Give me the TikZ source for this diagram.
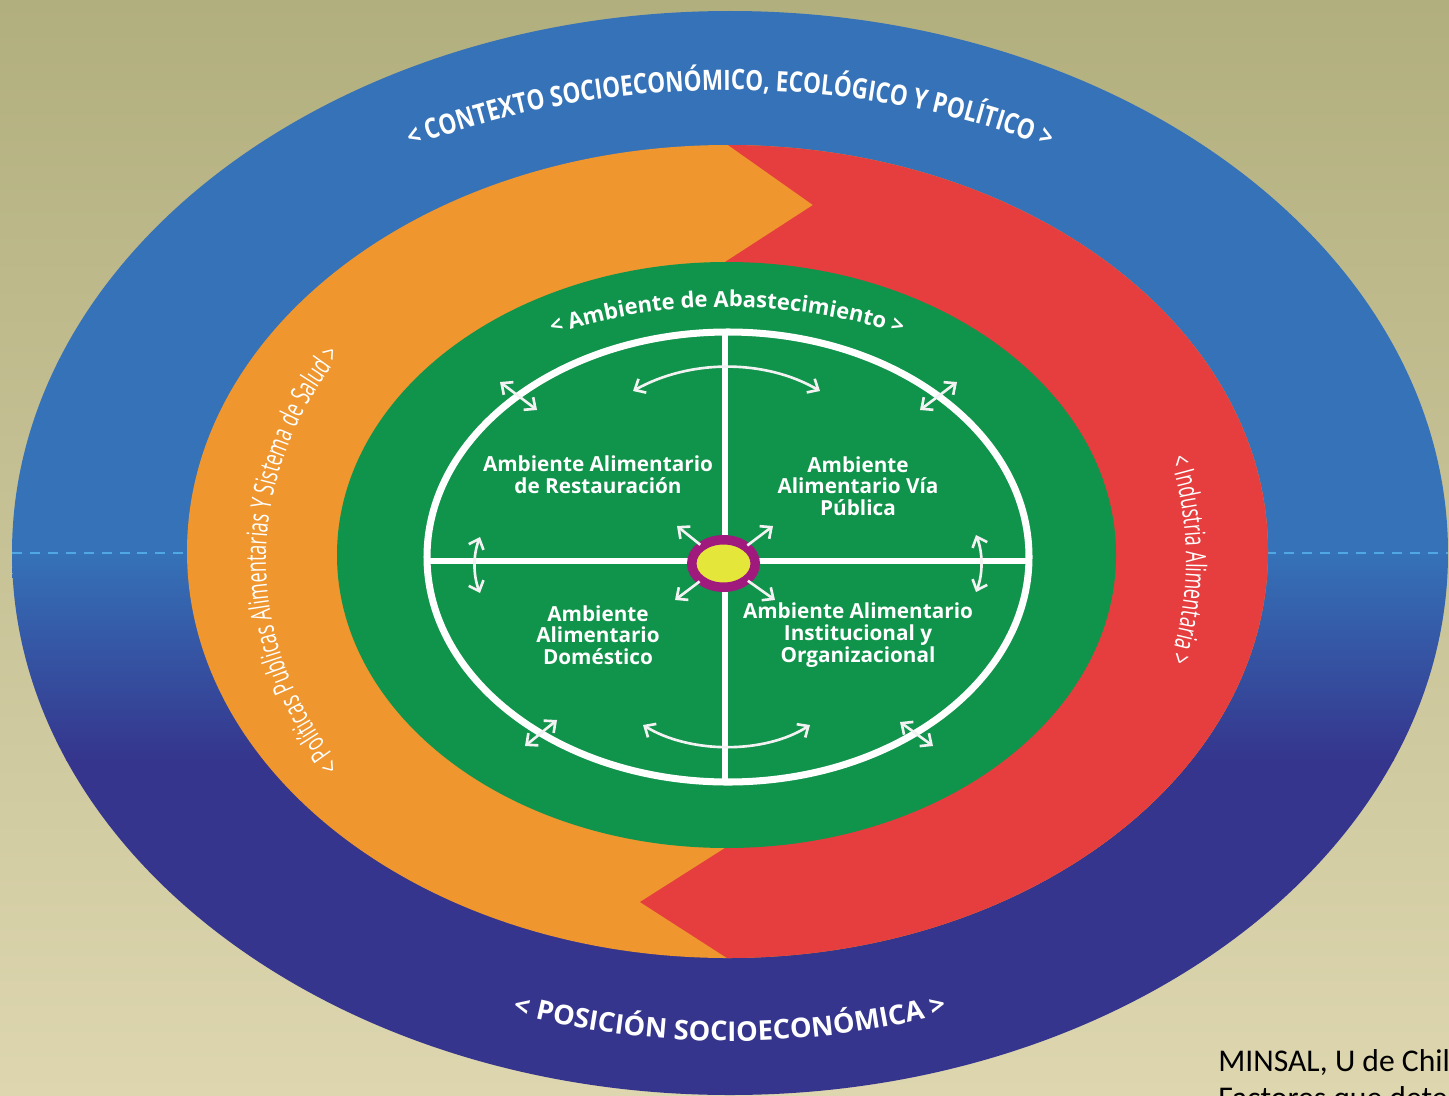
\documentclass[tikz,border=0pt]{standalone}
\usepackage{fontspec}
\setmainfont{Open Sans}
\newfontfamily\capfont[FakeStretch=0.8]{Open Sans}
\newfontfamily\bandfont[FakeStretch=0.64]{Open Sans}
\newfontfamily\notefont{Carlito}
\usepackage{tikz}
\usetikzlibrary{arrows.meta,decorations.text,shapes.geometric}

\definecolor{bgtop}{HTML}{B2AF7E}
\definecolor{bgbot}{HTML}{DDD6AF}
\definecolor{blueup}{HTML}{3572B8}
\definecolor{bluelow}{HTML}{35358D}
\definecolor{dashblue}{HTML}{4FA8E3}
\definecolor{ringorange}{HTML}{EF962E}
\definecolor{ringred}{HTML}{E63E3E}
\definecolor{ringgreen}{HTML}{10934A}
\definecolor{hubpurple}{HTML}{A01A7D}
\definecolor{hubyellow}{HTML}{E4E639}
\definecolor{arrowwhite}{HTML}{F2F2F2}

\begin{document}
\begin{tikzpicture}[x=0.02cm, y=-0.02cm,
    quadtext/.style={text=white, font=\fontsize{11.8}{12.3}\selectfont\bfseries, align=center, inner sep=0pt},
    twoway/.style={draw=arrowwhite, line width=1.5pt,
        {Straight Barb[length=5pt,width=9pt]}-{Straight Barb[length=5pt,width=9pt]}},
    oneway/.style={draw=arrowwhite, line width=1.5pt, -{Straight Barb[length=5pt,width=9pt]}},
    bandtext/.style={decorate, decoration={text along path, text align=center,
        text color=white, text={#1}}}
]
\useasboundingbox (0,0) rectangle (1449,1095);
\clip (0,0) rectangle (1449,1095);
\shade[top color=bgtop, bottom color=bgbot] (0,0) rectangle (1449,1095);

% outer band
\begin{scope}
  \clip (730,553) ellipse[x radius=718, y radius=542];
  \fill[blueup] (0,0) rectangle (1449,553);
  \shade[top color=blueup, bottom color=bluelow] (0,553) rectangle (1449,760);
  \fill[bluelow] (0,759) rectangle (1449,1100);
  \draw[dashblue, line width=1.2pt, dash pattern=on 5.7pt off 4.5pt] (12,553) -- (1449,553);
\end{scope}

% orange / red band
\fill[ringorange] (727.5,551.5) ellipse[x radius=540.5, y radius=406.5];
\begin{scope}
  \clip (727.5,551.5) ellipse[x radius=540.5, y radius=406.5];
  \fill[ringred] (728,100) -- (728,145) -- (813,205) -- (725,262) -- (725,848)
    -- (640,902) -- (727,958) -- (727,1000) -- (1300,1000) -- (1300,100) -- cycle;
\end{scope}

% green disc
\fill[ringgreen] (726.5,555) ellipse[x radius=389.5, y radius=293];
\draw[white, line width=4pt] (728,557) ellipse[x radius=301, y radius=225];

\coordinate (top) at (725,332);
\coordinate (bot) at (725,782);
\coordinate (lft) at (427,561);
\coordinate (rgt) at (1029,561);
\draw[white, line width=3.4pt] (top) -- (bot);
\draw[white, line width=3.4pt] (lft) -- (rgt);

\node (hub) [ellipse, draw=hubpurple, line width=5.4pt, fill=hubyellow,
    minimum width=1.27cm, minimum height=0.95cm, inner sep=0pt] at (723.5,563.5) {};

% band texts
\path[bandtext={|\capfont\fontsize{16}{18}\selectfont\bfseries|< CONTEXTO SOCIOECONÓMICO, ECOLÓGICO Y POLÍTICO >}]
  ([shift={(-128:660 and 463)}]730,553) arc[start angle=-128, end angle=-52, x radius=660, y radius=463];
\path[bandtext={|\fontsize{15.5}{18}\selectfont\bfseries|< POSICIÓN SOCIOECONÓMICA >}]
  ([shift={(130:650 and 488)}]730,553) arc[start angle=130, end angle=50, x radius=650, y radius=488];
\path[bandtext={|\bandfont\fontsize{16}{18}\selectfont|< Políticas Publicas Alimentarias Y Sistema de Salud >}]
  ([shift={(130:461 and 375)}]727,560) arc[start angle=130, end angle=230, x radius=461, y radius=375];
\path[bandtext={|\bandfont\fontsize{16}{18}\selectfont|< Industria Alimentaria >}]
  ([shift={(-45:459 and 385)}]727,560) arc[start angle=-45, end angle=45, x radius=459, y radius=385];
\path[bandtext={|\fontsize{12.5}{14}\selectfont\bfseries|< Ambiente de Abastecimiento >}]
  ([shift={(-130:380 and 250)}]727,557) arc[start angle=-130, end angle=-50, x radius=380, y radius=250];

% quadrants
\node (rest) [quadtext] at (598,475) {Ambiente Alimentario\\de Restauración};
\node (via) [quadtext] at (858,486) {Ambiente\\Alimentario Vía\\Pública};
\node (dom) [quadtext] at (598,635) {Ambiente\\Alimentario\\Doméstico};
\node (inst) [quadtext] at (858,635) {Ambiente Alimentario\\Institucional y\\Organizacional};

% arrows
\coordinate (a1) at (633,391);  \coordinate (a2) at (820,391);
\coordinate (b1) at (643,725);  \coordinate (b2) at (810,725);
\coordinate (c1) at (480,537);  \coordinate (c2) at (480,593);
\coordinate (d1) at (976,535);  \coordinate (d2) at (976,592);
\draw[twoway] (a1) .. controls (690,359) and (765,359) .. (a2);
\draw[twoway] (b1) .. controls (690,754) and (765,754) .. (b2);
\draw[twoway] (c1) .. controls (473,555) and (473,575) .. (c2);
\draw[twoway] (d1) .. controls (983,553) and (983,574) .. (d2);

\coordinate (e1) at (500,382);  \coordinate (e2) at (537,410);
\coordinate (f1) at (957,382);  \coordinate (f2) at (920,410);
\coordinate (g1) at (525,746);  \coordinate (g2) at (557,720);
\coordinate (h1) at (933,746);  \coordinate (h2) at (900,722);
\draw[twoway] (e1) -- (e2);
\draw[twoway] (f1) -- (f2);
\draw[twoway] (g1) -- (g2);
\draw[twoway] (h1) -- (h2);

\coordinate (ul) at (677,526);  \coordinate (ur) at (773,526);
\coordinate (ll) at (675,600);  \coordinate (lr) at (775,600);
\draw[oneway, shorten <=17pt] (hub.center) -- (ul);
\draw[oneway, shorten <=17pt] (hub.center) -- (ur);
\draw[oneway, shorten <=17pt] (hub.center) -- (ll);
\draw[oneway, shorten <=17pt] (hub.center) -- (lr);

% source
\node (note1) [anchor=base west, inner sep=0pt, font=\notefont\fontsize{18}{22}\selectfont] at (1218,1071) {MINSAL, U de Chil};
\node (note2) [anchor=base west, inner sep=0pt, font=\notefont\fontsize{18}{22}\selectfont] at (1218,1108) {Factores que dete};
\end{tikzpicture}
\end{document}
